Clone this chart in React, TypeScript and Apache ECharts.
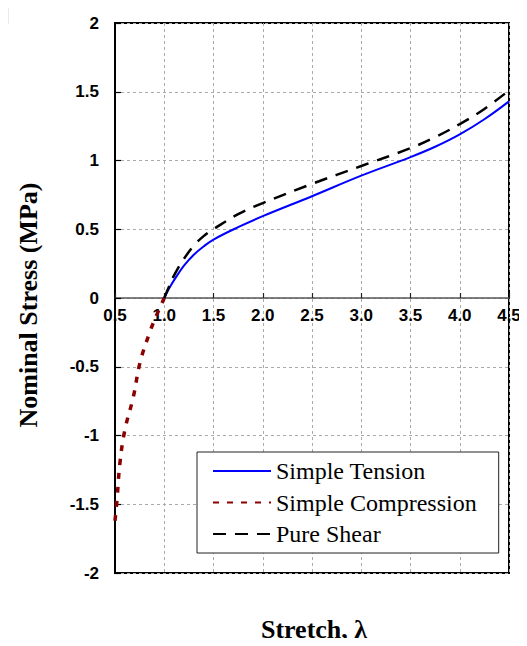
import React, { useEffect, useRef } from "react";
import * as echarts from "echarts";

const tensionData: number[][] = [
  [1.0, 0], [1.05, 0.07], [1.1, 0.13], [1.2, 0.235], [1.3, 0.315], [1.4, 0.375],
  [1.5, 0.425], [1.75, 0.515], [2.0, 0.595], [2.5, 0.74], [3.0, 0.89],
  [3.5, 1.025], [3.75, 1.1], [4.0, 1.19], [4.25, 1.3], [4.5, 1.43],
];
const compressionData: number[][] = [
  [0.5, -1.62], [0.52, -1.47], [0.55, -1.2], [0.6, -0.96], [0.686, -0.72],
  [0.754, -0.47], [0.855, -0.245], [0.923, -0.124], [1.0, 0],
];
const shearData: number[][] = [
  [1.0, 0], [1.05, 0.085], [1.1, 0.165], [1.2, 0.285], [1.3, 0.38], [1.4, 0.45],
  [1.5, 0.5], [1.75, 0.61], [2.0, 0.69], [2.5, 0.83], [3.0, 0.96],
  [3.5, 1.09], [3.75, 1.17], [4.0, 1.265], [4.25, 1.375], [4.5, 1.51],
];
const seriesNames = ["Simple Tension", "Simple Compression", "Pure Shear"];
const xTitle = "Stretch, λ";
const yTitle = "Nominal Stress (MPa)";

export default function App() {
  const ref = useRef<HTMLDivElement>(null);
  useEffect(() => {
    if (!ref.current) return;
    const chart = echarts.init(ref.current, undefined, { renderer: "svg" });
    const tickFont = {
      fontFamily: "Liberation Sans",
      fontWeight: "bold" as const,
      fontSize: 17,
      color: "#000",
    };
    chart.setOption({
      animation: false,
      backgroundColor: "#fff",
      grid: {
        left: 115,
        right: 18,
        top: 23,
        bottom: 73,
        show: true,
        borderColor: "#000",
        borderWidth: 2,
        backgroundColor: "transparent",
      },
      xAxis: {
        type: "value",
        position: "bottom",
        offset: -275,
        min: 0.5,
        max: 4.5,
        interval: 0.5,
        axisLine: { show: true, onZero: false, lineStyle: { color: "#555", width: 1.5 } },
        axisTick: { show: true, inside: true, length: 5, lineStyle: { color: "#222", width: 1.2 } },
        axisLabel: {
          ...tickFont,
          margin: 9,
          showMinLabel: true,
          showMaxLabel: true,
          formatter: (v: number) => v.toFixed(1),
        },
        splitLine: { show: true, lineStyle: { type: [3, 3], color: "#aaa", width: 1 } },
      },
      yAxis: {
        type: "value",
        min: -2,
        max: 2,
        interval: 0.5,
        axisLine: { show: true, onZero: false, lineStyle: { color: "#000", width: 2 } },
        axisTick: { show: true, inside: true, length: 6, lineStyle: { color: "#000", width: 1.2 } },
        axisLabel: { ...tickFont, margin: 16 },
        splitLine: { show: true, lineStyle: { type: [3, 3], color: "#aaa", width: 1 } },
      },
      legend: {
        show: true,
        orient: "vertical",
        left: 197,
        top: 452,
        padding: [7, 22, 7, 15],
        itemWidth: 58,
        itemHeight: 14,
        itemGap: 7.5,
        backgroundColor: "#fff",
        borderColor: "#222",
        borderWidth: 1,
        itemStyle: { opacity: 0 },
        textStyle: { fontFamily: "Liberation Serif", fontSize: 24, lineHeight: 24, color: "#000" },
        data: seriesNames,
      },
      series: [
        {
          name: seriesNames[0],
          type: "line",
          data: tensionData,
          smooth: 0.4,
          symbol: "none",
          lineStyle: { color: "#0000ff", width: 2 },
          itemStyle: { color: "#0000ff" },
          z: 3,
        },
        {
          name: seriesNames[1],
          type: "line",
          data: compressionData,
          smooth: 0.4,
          symbol: "none",
          lineStyle: { color: "#8b0000", width: 3.5, type: [6, 8] },
          itemStyle: { color: "#8b0000" },
          z: 3,
        },
        {
          name: seriesNames[2],
          type: "line",
          data: shearData,
          smooth: 0.4,
          symbol: "none",
          lineStyle: { color: "#000", width: 2.5, type: [13, 9] },
          itemStyle: { color: "#000" },
          z: 4,
        },
      ],
      graphic: [
        { type: "rect", z: 1, shape: { x: 0, y: 0, width: 505, height: 7 }, style: { fill: "#e9e9e9" } },
        { type: "rect", z: 1, shape: { x: 0, y: 0, width: 9, height: 24 }, style: { fill: "#e9e9e9" } },
        {
          type: "text",
          x: 28,
          y: 305,
          rotation: Math.PI / 2,
          style: {
            text: yTitle,
            fontFamily: "Liberation Serif",
            fontWeight: "bold",
            fontSize: 26,
            fill: "#000",
            align: "center",
            verticalAlign: "middle",
          },
        },
        {
          type: "text",
          x: 314,
          y: 629,
          style: {
            text: xTitle,
            fontFamily: "Liberation Serif",
            fontWeight: "bold",
            fontSize: 26,
            fill: "#000",
            align: "center",
            verticalAlign: "middle",
          },
        },
      ],
    });
    return () => chart.dispose();
  }, []);
  return <div ref={ref} style={{ width: 527, height: 646, margin: -8 }} />;
}
